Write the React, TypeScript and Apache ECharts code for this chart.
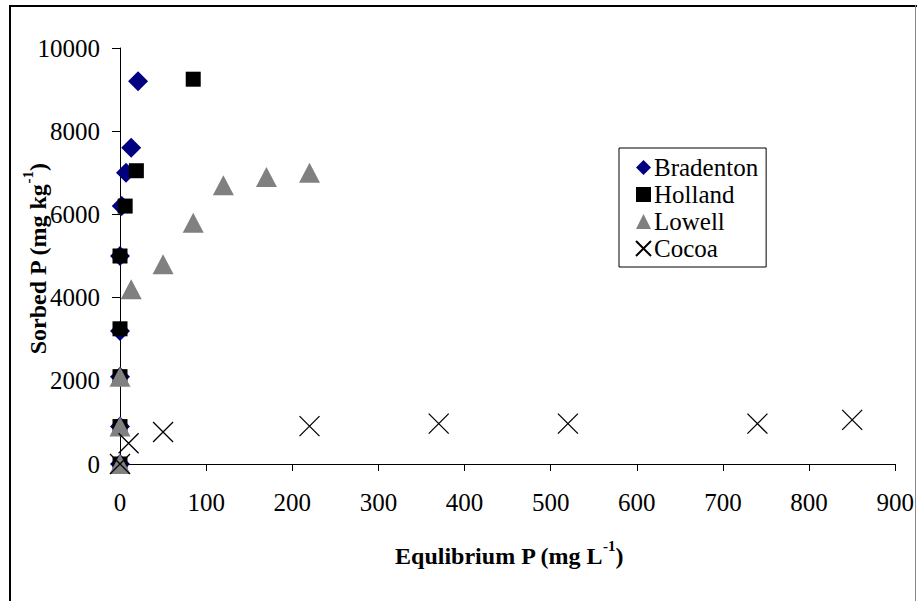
import React, { useEffect, useRef } from "react";
import * as echarts from "echarts";

const seriesNames = ["Bradenton", "Holland", "Lowell", "Cocoa"];

const bradenton: [number, number][] = [
  [0, 0], [0, 900], [0, 2100], [0, 3200], [0, 5000], [2, 6200], [7, 7000], [13, 7600], [21, 9200],
];
const holland: [number, number][] = [
  [0, 0], [0, 900], [0, 2100], [0, 3250], [0, 5000], [6, 6200], [19, 7050], [85, 9250],
];
const lowell: [number, number][] = [
  [0, 0], [0, 900], [0, 2100], [13, 4200], [50, 4800], [85, 5800], [120, 6700], [170, 6900], [220, 7000],
];
const cocoa: [number, number][] = [
  [0, 0], [10, 500], [50, 770], [220, 910], [370, 970], [520, 970], [740, 970], [850, 1060],
];

const xTicks = { min: 0, max: 900, interval: 100 };
const yTicks = { min: 0, max: 10000, interval: 2000 };

const FONT = "'Liberation Serif', 'Times New Roman', serif";

export default function App() {
  const ref = useRef<HTMLDivElement>(null);
  useEffect(() => {
    if (!ref.current) return;
    const chart = echarts.init(ref.current, null, { renderer: "svg" });
    const xSymbol = "path://M0,0L20,20M20,0L0,20";
    chart.setOption({
      animation: false,
      backgroundColor: "#fff",
      grid: { left: 120, right: 20, top: 48, bottom: 137 },
      xAxis: {
        type: "value",
        min: xTicks.min,
        max: xTicks.max,
        interval: xTicks.interval,
        axisLine: { onZero: false, lineStyle: { color: "#000", width: 1 } },
        axisTick: { show: true, inside: false, length: 7, lineStyle: { color: "#000" } },
        splitLine: { show: false },
        axisLabel: { color: "#000", fontFamily: FONT, fontSize: 25, margin: 26, formatter: (v: number) => String(v) },
      },
      yAxis: {
        type: "value",
        min: yTicks.min,
        max: yTicks.max,
        interval: yTicks.interval,
        axisLine: { show: true, onZero: false, lineStyle: { color: "#000", width: 1 } },
        axisTick: { show: true, inside: false, length: 8, lineStyle: { color: "#000" } },
        splitLine: { show: false },
        axisLabel: { color: "#000", fontFamily: FONT, fontSize: 25, margin: 20, formatter: (v: number) => String(v) },
      },
      legend: {
        orient: "vertical",
        left: 619,
        top: 148,
        backgroundColor: "#fff",
        borderColor: "#000",
        borderWidth: 1,
        padding: [7, 8, 6, 16],
        itemGap: 2,
        itemWidth: 15,
        itemHeight: 15,
        textStyle: { color: "#000", fontFamily: FONT, fontSize: 25, lineHeight: 24, padding: [0, 0, 0, -2] },
        data: seriesNames,
      },
      series: [
        {
          name: seriesNames[0],
          type: "scatter",
          symbol: "diamond",
          symbolSize: 20,
          itemStyle: { color: "#000080", opacity: 1 },
          data: bradenton,
        },
        {
          name: seriesNames[1],
          type: "scatter",
          symbol: "rect",
          symbolSize: 15,
          itemStyle: { color: "#000000", opacity: 1 },
          data: holland,
        },
        {
          name: seriesNames[2],
          type: "scatter",
          symbol: "triangle",
          symbolSize: [21, 20],
          itemStyle: { color: "#808080", opacity: 1 },
          data: lowell,
        },
        {
          name: seriesNames[3],
          type: "scatter",
          symbol: xSymbol,
          symbolSize: [20, 20],
          itemStyle: { color: "rgba(0,0,0,0)", borderColor: "#000", borderWidth: 1.3, opacity: 1 },
          data: cocoa,
        },
      ],
      graphic: [
        {
          type: "line",
          shape: { x1: 10, y1: 5, x2: 10, y2: 601 },
          style: { stroke: "#000", lineWidth: 2 },
        },
        {
          type: "line",
          shape: { x1: 9, y1: 6, x2: 917, y2: 6 },
          style: { stroke: "#000", lineWidth: 2 },
        },
        {
          type: "line",
          shape: { x1: 915.5, y1: 5, x2: 915.5, y2: 601 },
          style: { stroke: "#888", lineWidth: 1 },
        },
        {
          type: "text",
          x: 509,
          y: 553,
          style: {
            text: "{a|Equlibrium P (mg L}{s|-1}{a|)}",
            align: "center",
            verticalAlign: "middle",
            rich: {
              a: { fontFamily: FONT, fontSize: 24, fontWeight: "bold", fill: "#000", lineHeight: 30, verticalAlign: "bottom" },
              s: { fontFamily: FONT, fontSize: 15, fontWeight: "bold", fill: "#000", lineHeight: 16, verticalAlign: "top" },
            },
          },
        },
        {
          type: "text",
          x: 35,
          y: 259,
          rotation: Math.PI / 2,
          style: {
            text: "{a|Sorbed P (mg kg}{s|-1}{a|)}",
            align: "center",
            verticalAlign: "middle",
            rich: {
              a: { fontFamily: FONT, fontSize: 24, fontWeight: "bold", fill: "#000", lineHeight: 30, verticalAlign: "bottom" },
              s: { fontFamily: FONT, fontSize: 15, fontWeight: "bold", fill: "#000", lineHeight: 16, verticalAlign: "top" },
            },
          },
        },
      ],
    });
    return () => chart.dispose();
  }, []);
  return (
    <div
      ref={ref}
      style={{ position: "fixed", left: 0, top: 0, width: 917, height: 601, background: "#fff" }}
    />
  );
}
